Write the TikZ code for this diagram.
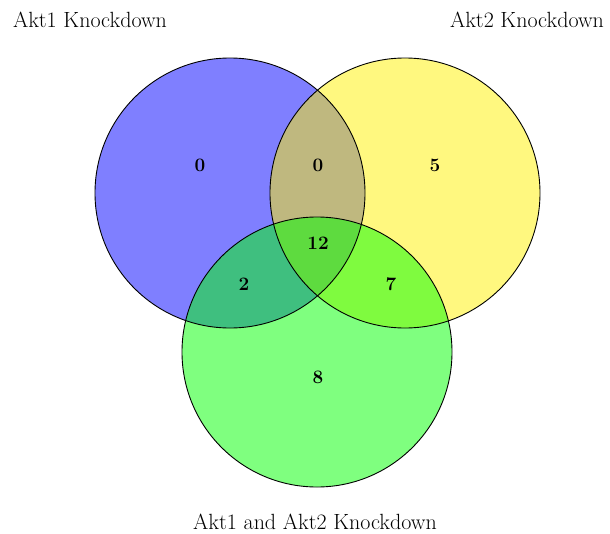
\documentclass[tikz,border=0pt]{standalone}
\usepackage{fontspec}
\begin{document}
\begin{tikzpicture}[x=1pt,y=-1pt,
  setfill/.style={circle,minimum size=270pt,inner sep=0pt,fill opacity=0.5},
  setline/.style={circle,minimum size=270pt,inner sep=0pt,draw=black,line width=0.9pt},
  count/.style={font=\fontsize{19}{21}\selectfont\bfseries},
  title/.style={font=\fontsize{22}{25}\selectfont,anchor=base,inner sep=0pt}]
\useasboundingbox (0,0) rectangle (610,533);
\node[setfill,fill=blue] (fa) at (230,193) {};
\node[setfill,fill=yellow] (fb) at (405,193) {};
\node[setfill,fill=green] (fc) at (317,352) {};
\node[setline] (ca) at (230,193) {};
\node[setline] (cb) at (405,193) {};
\node[setline] (cc) at (317,352) {};
\node[count] (n1) at (200,165) {0};
\node[count] (n2) at (318,165) {0};
\node[count] (n3) at (435,165) {5};
\node[count] (n4) at (318,243) {12};
\node[count] (n5) at (244,284) {2};
\node[count] (n6) at (391,284) {7};
\node[count] (n7) at (318,377) {8};
\node[title] (t1) at (90,27) {Akt1 Knockdown};
\node[title] (t2) at (527,27) {Akt2 Knockdown};
\node[title] (t3) at (315,529) {Akt1 and Akt2 Knockdown};
\end{tikzpicture}
\end{document}
